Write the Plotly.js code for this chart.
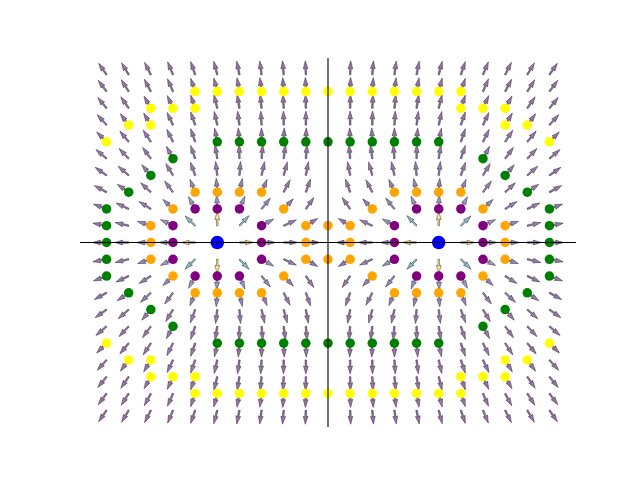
<!DOCTYPE html>
<html>
<head>
<meta charset="utf-8">
<script src="https://cdn.plot.ly/plotly-3.0.1.min.js"></script>
<style>html,body{margin:0;padding:0;background:#fff;}#chart{width:640px;height:480px;}</style>
</head>
<body>
<div id="chart"></div>
<script>
// ---- Data ----
// point charges (blue dots)
const chargeX = [-1, 1];
const chargeY = [0, 0];
const chargeQ = [1, 1];

// quiver grid (the x = 0 column carries no arrow in the reference)
const arrowX = [-2, -1.8, -1.6, -1.4, -1.2, -1, -0.8, -0.6, -0.4, -0.2,
                0.2, 0.4, 0.6, 0.8, 1, 1.2, 1.4, 1.6, 1.8, 2];
const arrowY = [-2, -1.8, -1.6, -1.4, -1.2, -1, -0.8, -0.6, -0.4, -0.2, 0,
                0.2, 0.4, 0.6, 0.8, 1, 1.2, 1.4, 1.6, 1.8, 2];

// equipotential sample dots
const yellowX = [-1.2,-1,-0.8,-0.6,-0.4,-0.2,0,0.2,0.4,0.6,0.8,1,1.2,
                 -1.6,-1.4,-1.2,1.2,1.4,1.6,
                 -1.8,-1.6,1.6,1.8,
                 -2,2,
                 -2,2,
                 -1.8,-1.6,1.6,1.8,
                 -1.6,-1.4,-1.2,1.2,1.4,1.6,
                 -1.2,-1,-0.8,-0.6,-0.4,-0.2,0,0.2,0.4,0.6,0.8,1,1.2];
const yellowY = [1.8,1.8,1.8,1.8,1.8,1.8,1.8,1.8,1.8,1.8,1.8,1.8,1.8,
                 1.6,1.6,1.6,1.6,1.6,1.6,
                 1.4,1.4,1.4,1.4,
                 1.2,1.2,
                 -1.2,-1.2,
                 -1.4,-1.4,-1.4,-1.4,
                 -1.6,-1.6,-1.6,-1.6,-1.6,-1.6,
                 -1.8,-1.8,-1.8,-1.8,-1.8,-1.8,-1.8,-1.8,-1.8,-1.8,-1.8,-1.8,-1.8];

const greenX = [-1,-0.8,-0.6,-0.4,-0.2,0,0.2,0.4,0.6,0.8,1,
                -1.4,1.4, -1.6,1.6, -1.8,1.8,
                -2,2, -2,2, -2,2, -2,2, -2,2,
                -1.8,1.8, -1.6,1.6, -1.4,1.4,
                -1,-0.8,-0.6,-0.4,-0.2,0,0.2,0.4,0.6,0.8,1];
const greenY = [1.2,1.2,1.2,1.2,1.2,1.2,1.2,1.2,1.2,1.2,1.2,
                1,1, 0.8,0.8, 0.6,0.6,
                0.4,0.4, 0.2,0.2, 0,0, -0.2,-0.2, -0.4,-0.4,
                -0.6,-0.6, -0.8,-0.8, -1,-1,
                -1.2,-1.2,-1.2,-1.2,-1.2,-1.2,-1.2,-1.2,-1.2,-1.2,-1.2];

const orangeX = [-1.2,-1,-0.8,-0.6,0.6,0.8,1,1.2,
                 -1.4,-0.4,0.4,1.4,
                 -1.6,-0.2,0,0.2,1.6,
                 -1.6,-0.2,0.2,1.6,
                 -1.6,-0.2,0,0.2,1.6,
                 -1.4,-0.4,0.4,1.4,
                 -1.2,-1,-0.8,-0.6,0.6,0.8,1,1.2];
const orangeY = [0.6,0.6,0.6,0.6,0.6,0.6,0.6,0.6,
                 0.4,0.4,0.4,0.4,
                 0.2,0.2,0.2,0.2,0.2,
                 0,0,0,0,
                 -0.2,-0.2,-0.2,-0.2,-0.2,
                 -0.4,-0.4,-0.4,-0.4,
                 -0.6,-0.6,-0.6,-0.6,-0.6,-0.6,-0.6,-0.6];

const purpleX = [-1.2,-1,-0.8,0.8,1,1.2,
                 -1.4,-0.6,0.6,1.4,
                 -1.4,-0.6,0.6,1.4,
                 -1.4,-0.6,0.6,1.4,
                 -1.2,-1,-0.8,0.8,1,1.2];
const purpleY = [0.4,0.4,0.4,0.4,0.4,0.4,
                 0.2,0.2,0.2,0.2,
                 0,0,0,0,
                 -0.2,-0.2,-0.2,-0.2,
                 -0.4,-0.4,-0.4,-0.4,-0.4,-0.4];

// ---- Layout geometry ----
const W = 640, H = 480;
const M = {l: 80, r: 64, t: 58, b: 53};
const xr = 2.24, yr = 2.2;
const plotW = W - M.l - M.r, plotH = H - M.t - M.b;
const kx = plotW / (2 * xr), ky = plotH / (2 * yr);   // px per data unit

// viridis colormap
const VIR = ['#440154','#482475','#414487','#355f8d','#2a788e','#21918c',
             '#22a884','#44bf70','#7ad151','#bddf26','#fde725'];
function hex2rgb(h){return [parseInt(h.substr(1,2),16),parseInt(h.substr(3,2),16),parseInt(h.substr(5,2),16)];}
function viridis(t, a){
  t = Math.max(0, Math.min(1, t));
  const s = t * (VIR.length - 1);
  const i = Math.min(VIR.length - 2, Math.floor(s));
  const f = s - i;
  const c0 = hex2rgb(VIR[i]), c1 = hex2rgb(VIR[i+1]);
  const c = c0.map((v, k) => Math.round(v + (c1[k] - v) * f));
  return 'rgba(' + c[0] + ',' + c[1] + ',' + c[2] + ',' + a + ')';
}

// field vectors
const vecs = [];
let maxMag = 0;
for (const y of arrowY) {
  for (const x of arrowX) {
    let ex = 0, ey = 0, onCharge = false;
    for (let k = 0; k < chargeX.length; k++) {
      const dx = x - chargeX[k], dy = y - chargeY[k];
      const r2 = dx*dx + dy*dy;
      if (r2 < 1e-9) { onCharge = true; break; }
      const r3 = Math.pow(r2, 1.5);
      ex += chargeQ[k] * dx / r3;
      ey += chargeQ[k] * dy / r3;
    }
    if (onCharge) continue;
    const mag = Math.hypot(ex, ey);
    maxMag = Math.max(maxMag, mag);
    vecs.push({x, y, ex, ey, mag});
  }
}

// arrow shape (matplotlib quiver style, pivot at tail), in px
const w = 1.6, L = 14;
const shape = [[0, w/2], [L - 4.5*w, w/2], [L - 5*w, 1.5*w], [L, 0],
               [L - 5*w, -1.5*w], [L - 4.5*w, -w/2], [0, -w/2], [0, w/2]];

const groups = {};
for (const v of vecs) {
  const t = Math.round(v.mag / maxMag * 64) / 64;
  const col = viridis(t, 0.55);
  if (!groups[col]) groups[col] = {x: [], y: []};
  const th = Math.atan2(v.ey, v.ex);
  const c = Math.cos(th), s = Math.sin(th);
  for (const [a, b] of shape) {
    groups[col].x.push(v.x + (a*c - b*s) / kx);
    groups[col].y.push(v.y + (a*s + b*c) / ky);
  }
  groups[col].x.push(null);
  groups[col].y.push(null);
}

const traces = [];
for (const col in groups) {
  traces.push({
    type: 'scatter', mode: 'lines', x: groups[col].x, y: groups[col].y,
    fill: 'toself', fillcolor: col,
    line: {color: 'rgba(20,10,30,0.85)', width: 0.5},
    hoverinfo: 'skip', showlegend: false
  });
}

function dots(xs, ys, color, size) {
  return {type: 'scatter', mode: 'markers', x: xs, y: ys,
          marker: {color: color, size: size, line: {width: 0}},
          hoverinfo: 'skip', showlegend: false};
}
traces.push(dots(yellowX, yellowY, '#ffff00', 9.5));
traces.push(dots(greenX, greenY, '#008000', 9.5));
traces.push(dots(orangeX, orangeY, '#ffa500', 9.5));
traces.push(dots(purpleX, purpleY, '#800080', 9.5));
traces.push(dots(chargeX, chargeY, '#0000ff', 13.5));

const axisCommon = {showgrid: false, zeroline: false, showticklabels: false,
                    ticks: '', showline: false, fixedrange: true};
const layout = {
  width: W, height: H, autosize: false,
  margin: M,
  paper_bgcolor: '#ffffff', plot_bgcolor: '#ffffff',
  xaxis: Object.assign({range: [-xr, xr]}, axisCommon),
  yaxis: Object.assign({range: [-yr, yr]}, axisCommon),
  shapes: [
    {type: 'line', xref: 'paper', yref: 'paper', x0: 0, x1: 1, y0: 0.5, y1: 0.5,
     line: {color: '#000000', width: 1.1}, layer: 'above'},
    {type: 'line', xref: 'paper', yref: 'paper', x0: 0.5, x1: 0.5, y0: 0, y1: 1,
     line: {color: '#000000', width: 1.1}, layer: 'above'}
  ],
  showlegend: false
};

Plotly.newPlot('chart', traces, layout, {staticPlot: true, displayModeBar: false});
</script>
</body>
</html>
